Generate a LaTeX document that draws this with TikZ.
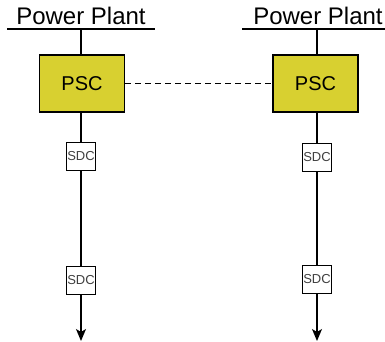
\documentclass[tikz,border=0pt]{standalone}
\usepackage{fontspec}
\setmainfont{Liberation Sans}
\usepackage{tikz}
\usetikzlibrary{arrows.meta}
\definecolor{pscyellow}{RGB}{216,208,48}

\begin{document}
\begin{tikzpicture}[x=1pt, y=-1pt,
plant/.style={inner sep=0pt, font=\fontsize{24}{28}\selectfont},
%
psc/.style={rectangle, draw=black, line width=1.2pt, fill=pscyellow,
minimum width=85pt, minimum height=57pt, font=\fontsize{20}{24}\selectfont},
%
sdc/.style={rectangle, draw=black, line width=1pt, fill=white,
minimum width=29pt, minimum height=28pt, inner sep=0pt,
text=black!75, font=\fontsize{13}{15}\selectfont},
%
feeder/.style={line width=1.3pt},
tip/.style={-{Stealth[length=12pt, width=10pt, inset=3pt]}}]

\useasboundingbox (0,0) rectangle (385,342);

\begin{scope}
  % left plant
  \node [plant, anchor=base] (plantL) at (81,25) {Power Plant};
  \coordinate (busLa) at (7,29);
  \coordinate (busLb) at (155,29);
  \coordinate (busL) at (81,29);
  \node [psc] (pscL) at (82,83.5) {PSC};
  \node [sdc] (sdcLa) at (81,156) {SDC};
  \node [sdc] (sdcLb) at (81,280.5) {SDC};
  \coordinate (endL) at (81,341);
  %%%%%%%%%%%%%%%%%%%%%%%%%%%%%%
  % right plant
  \node [plant, anchor=base] (plantR) at (318,25) {Power Plant};
  \coordinate (busRa) at (242,29);
  \coordinate (busRb) at (385,29);
  \coordinate (busR) at (317,29);
  \node [psc] (pscR) at (315.5,83.5) {PSC};
  \node [sdc] (sdcRa) at (317,157.5) {SDC};
  \node [sdc] (sdcRb) at (317,279) {SDC};
  \coordinate (endR) at (317,341);
\end{scope}

\begin{scope}
  \draw [line width=1.8pt] (busLa) -- (busLb);
  \draw [line width=1.8pt] (busRa) -- (busRb);
  %%%%%%%%%%%%%%%%%%%%%%%%%%%%%%
  \draw [feeder] (busL) -- (busL |- pscL.north);
  \draw [feeder] (pscL.south -| sdcLa) -- (sdcLa);
  \draw [feeder] (sdcLa) -- (sdcLb);
  \draw [feeder, tip] (sdcLb) -- (endL);
  %%%%%%%%%%%%%%%%%%%%%%%%%%%%%%
  \draw [feeder] (busR) -- (busR |- pscR.north);
  \draw [feeder] (pscR.south -| sdcRa) -- (sdcRa);
  \draw [feeder] (sdcRa) -- (sdcRb);
  \draw [feeder, tip] (sdcRb) -- (endR);
  %%%%%%%%%%%%%%%%%%%%%%%%%%%%%%
  \draw [line width=1pt, dash pattern=on 6pt off 4pt] (pscL) -- (pscR);
\end{scope}

\end{tikzpicture}
\end{document}
